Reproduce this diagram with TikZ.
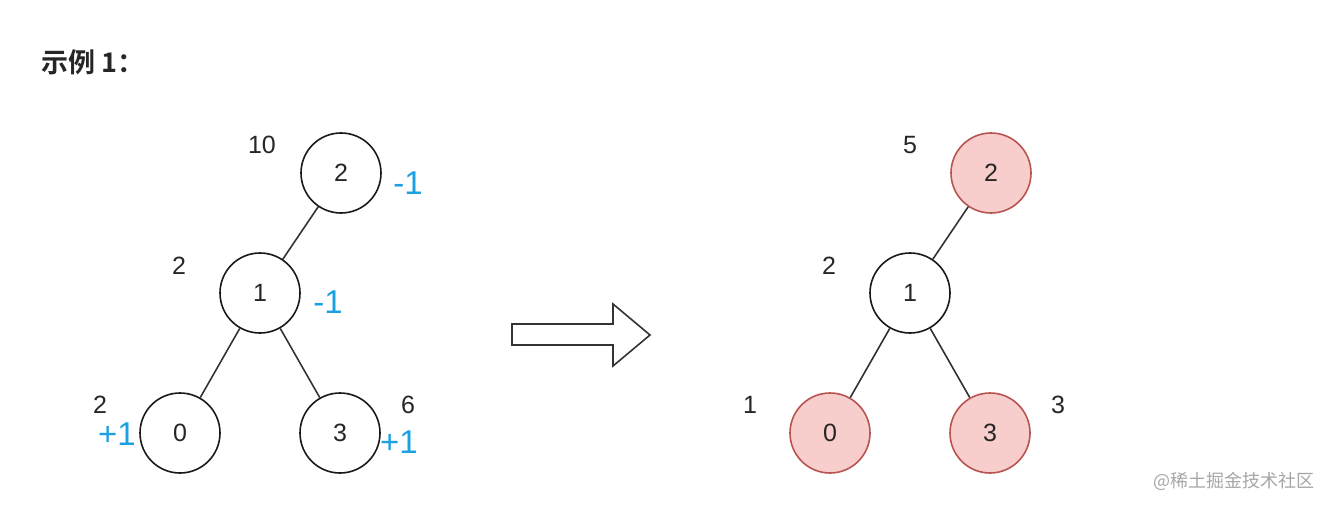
\documentclass[tikz,border=0pt]{standalone}
\usepackage{fontspec}
\setmainfont{Liberation Sans}
\newfontfamily\cjk{Noto Sans CJK SC}
\newfontfamily\cjkbold{Noto Sans CJK SC Bold}
\usetikzlibrary{positioning}
\definecolor{deltablue}{RGB}{27,161,226}
\definecolor{hitfill}{RGB}{248,206,204}
\definecolor{hitdraw}{RGB}{184,84,80}

\begin{document}
\begin{tikzpicture}[
  x=1pt, y=-1pt,
  vtx/.style={draw=black!90, circle, minimum size=80pt, inner sep=0pt, line width=1.6pt,
              fill=white, font=\fontsize{25}{28}\selectfont, text=black!85},
  hit/.style={vtx, fill=hitfill, draw=hitdraw},
  cnt/.style={font=\fontsize{25}{28}\selectfont, text=black!85, inner sep=0pt},
  dlt/.style={font=\fontsize{33}{36}\selectfont, text=deltablue, inner sep=0pt},
  edge/.style={line width=1.6pt, color=black!80},
]
\useasboundingbox (0,0) rectangle (1330,508);

% Title
\node[anchor=west, inner sep=0pt, font=\cjkbold\fontsize{27}{30}\selectfont, text=black!85]
  (title) at (41,62) {示例 1：};

% Left tree
\node[vtx] (l2) at (341,173) {2};
\node[vtx] (l1) at (260,293) {1};
\node[vtx] (l0) at (180,433) {0};
\node[vtx] (l3) at (340,433) {3};

\draw[edge] (l2) -- (l1);
\draw[edge] (l1) -- (l0);
\draw[edge] (l1) -- (l3);

\node[cnt] (l2c) at (262,145) {10};
\node[cnt] (l1c) at (179,266) {2};
\node[cnt] (l0c) at (100,405) {2};
\node[cnt] (l3c) at (408,405) {6};

\node[dlt] (l2d) at (408,183) {-1};
\node[dlt] (l1d) at (328,302) {-1};
\node[dlt] (l0d) at (117,434) {+1};
\node[dlt] (l3d) at (399,442) {+1};

% Block arrow
\draw[line width=1.6pt, color=black!80, fill=white, line join=miter]
  (512,324) -- (613,324) -- (613,304) -- (650,335) -- (613,366) -- (613,345)
  -- (512,345) -- cycle;

% Right tree
\node[hit] (r2) at (991,173) {2};
\node[vtx] (r1) at (910,293) {1};
\node[hit] (r0) at (830,433) {0};
\node[hit] (r3) at (990,433) {3};

\draw[edge] (r2) -- (r1);
\draw[edge] (r1) -- (r0);
\draw[edge] (r1) -- (r3);

\node[cnt] (r2c) at (910,145) {5};
\node[cnt] (r1c) at (829,266) {2};
\node[cnt] (r0c) at (750,405) {1};
\node[cnt] (r3c) at (1058,405) {3};

% Watermark
\node[anchor=east, inner sep=0pt, font=\cjk\fontsize{18}{20}\selectfont, text=black!35]
  (mark) at (1315,481) {@稀土掘金技术社区};

\end{tikzpicture}
\end{document}
